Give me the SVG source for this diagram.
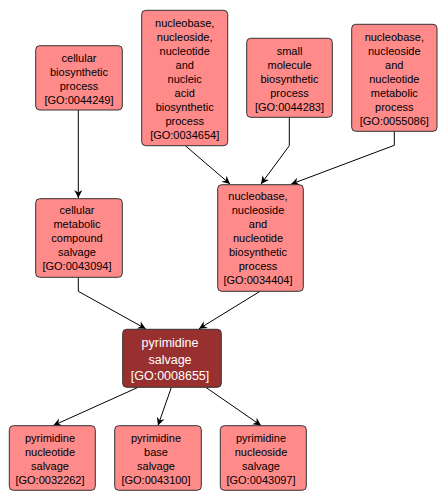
<svg xmlns="http://www.w3.org/2000/svg" width="448" height="502" viewBox="0 0 448 502">
<style>
.n rect{fill:#FF8A8A;stroke:#333;stroke-width:1}
.n text{font-family:"Liberation Sans",Arial,sans-serif;font-size:11px;fill:#000;text-anchor:middle}
.d rect{fill:#983030;stroke:#333;stroke-width:1}
.d text{font-family:"Liberation Sans",Arial,sans-serif;font-size:12.5px;fill:#fff;text-anchor:middle}
.e{fill:none;stroke:#000;stroke-width:1;marker-end:url(#ah)}
</style>
<defs>
<marker id="ah" markerWidth="10" markerHeight="10" viewBox="-9 -5 10 10" refX="0" refY="0" orient="auto" markerUnits="userSpaceOnUse">
<path d="M0,0 L-8,-4 L-5.5,0 L-8,4 z" fill="#000"/>
</marker>
</defs>
<rect width="448" height="502" fill="#fff"/>
<g id="edges">
<path class="e" d="M78.3,110 L78.3,198"/>
<path class="e" d="M185.3,145.7 L230,184"/>
<path class="e" d="M289.3,117 L289.3,145.7 L261,184"/>
<path class="e" d="M394.3,131 L394.3,145.3 L291,184.2"/>
<path class="e" d="M78.3,277 L78.3,291.3 L145.7,328.8"/>
<path class="e" d="M260,291.3 L199,328.8"/>
<path class="e" d="M137.7,387.5 L53.3,425.5"/>
<path class="e" d="M171.3,387.5 L158,425.5"/>
<path class="e" d="M206,387.5 L261,425.5"/>
</g>
<g id="GO0044249" class="n">
<rect x="35.7" y="45.7" width="86.6" height="64.3" rx="4"/>
<text x="79" y="62">cellular</text>
<text x="79" y="76">biosynthetic</text>
<text x="79" y="90">process</text>
<text x="79" y="104">[GO:0044249]</text>
</g>
<g id="GO0034654" class="n">
<rect x="141.7" y="10.3" width="86" height="135.4" rx="4"/>
<text x="184.7" y="27">nucleobase,</text>
<text x="184.7" y="41">nucleoside,</text>
<text x="184.7" y="55">nucleotide</text>
<text x="184.7" y="69">and</text>
<text x="184.7" y="83">nucleic</text>
<text x="184.7" y="97">acid</text>
<text x="184.7" y="111">biosynthetic</text>
<text x="184.7" y="125">process</text>
<text x="184.7" y="139">[GO:0034654]</text>
</g>
<g id="GO0044283" class="n">
<rect x="246.7" y="38.3" width="85.6" height="79" rx="4"/>
<text x="289.5" y="55">small</text>
<text x="289.5" y="69">molecule</text>
<text x="289.5" y="83">biosynthetic</text>
<text x="289.5" y="97">process</text>
<text x="289.5" y="111">[GO:0044283]</text>
</g>
<g id="GO0055086" class="n">
<rect x="351.7" y="24.3" width="85.3" height="107" rx="4"/>
<text x="394.3" y="41">nucleobase,</text>
<text x="394.3" y="55">nucleoside</text>
<text x="394.3" y="69">and</text>
<text x="394.3" y="83">nucleotide</text>
<text x="394.3" y="97">metabolic</text>
<text x="394.3" y="111">process</text>
<text x="394.3" y="125">[GO:0055086]</text>
</g>
<g id="GO0043094" class="n">
<rect x="35.7" y="198.7" width="86.6" height="78.6" rx="4"/>
<text x="77" y="214">cellular</text>
<text x="77" y="228">metabolic</text>
<text x="77" y="242">compound</text>
<text x="77" y="256">salvage</text>
<text x="77" y="270">[GO:0043094]</text>
</g>
<g id="GO0034404" class="n">
<rect x="217.7" y="184.7" width="85.6" height="106.6" rx="4"/>
<text x="258" y="200">nucleobase,</text>
<text x="258" y="214">nucleoside</text>
<text x="258" y="228">and</text>
<text x="258" y="242">nucleotide</text>
<text x="258" y="256">biosynthetic</text>
<text x="258" y="270">process</text>
<text x="258" y="284">[GO:0034404]</text>
</g>
<g id="GO0008655" class="d">
<rect x="122.7" y="329.3" width="98.6" height="58" rx="4"/>
<text x="170" y="347">pyrimidine</text>
<text x="170" y="364">salvage</text>
<text x="170" y="380">[GO:0008655]</text>
</g>
<g id="GO0032262" class="n">
<rect x="9.3" y="425.7" width="86" height="64.6" rx="4"/>
<text x="50" y="442">pyrimidine</text>
<text x="50" y="456">nucleotide</text>
<text x="50" y="470">salvage</text>
<text x="50" y="484">[GO:0032262]</text>
</g>
<g id="GO0043100" class="n">
<rect x="114.7" y="425.7" width="86.6" height="64.6" rx="4"/>
<text x="156" y="442">pyrimidine</text>
<text x="156" y="456">base</text>
<text x="156" y="470">salvage</text>
<text x="156" y="484">[GO:0043100]</text>
</g>
<g id="GO0043097" class="n">
<rect x="220.3" y="425.7" width="86" height="64.6" rx="4"/>
<text x="261" y="442">pyrimidine</text>
<text x="261" y="456">nucleoside</text>
<text x="261" y="470">salvage</text>
<text x="261" y="484">[GO:0043097]</text>
</g>
</svg>
